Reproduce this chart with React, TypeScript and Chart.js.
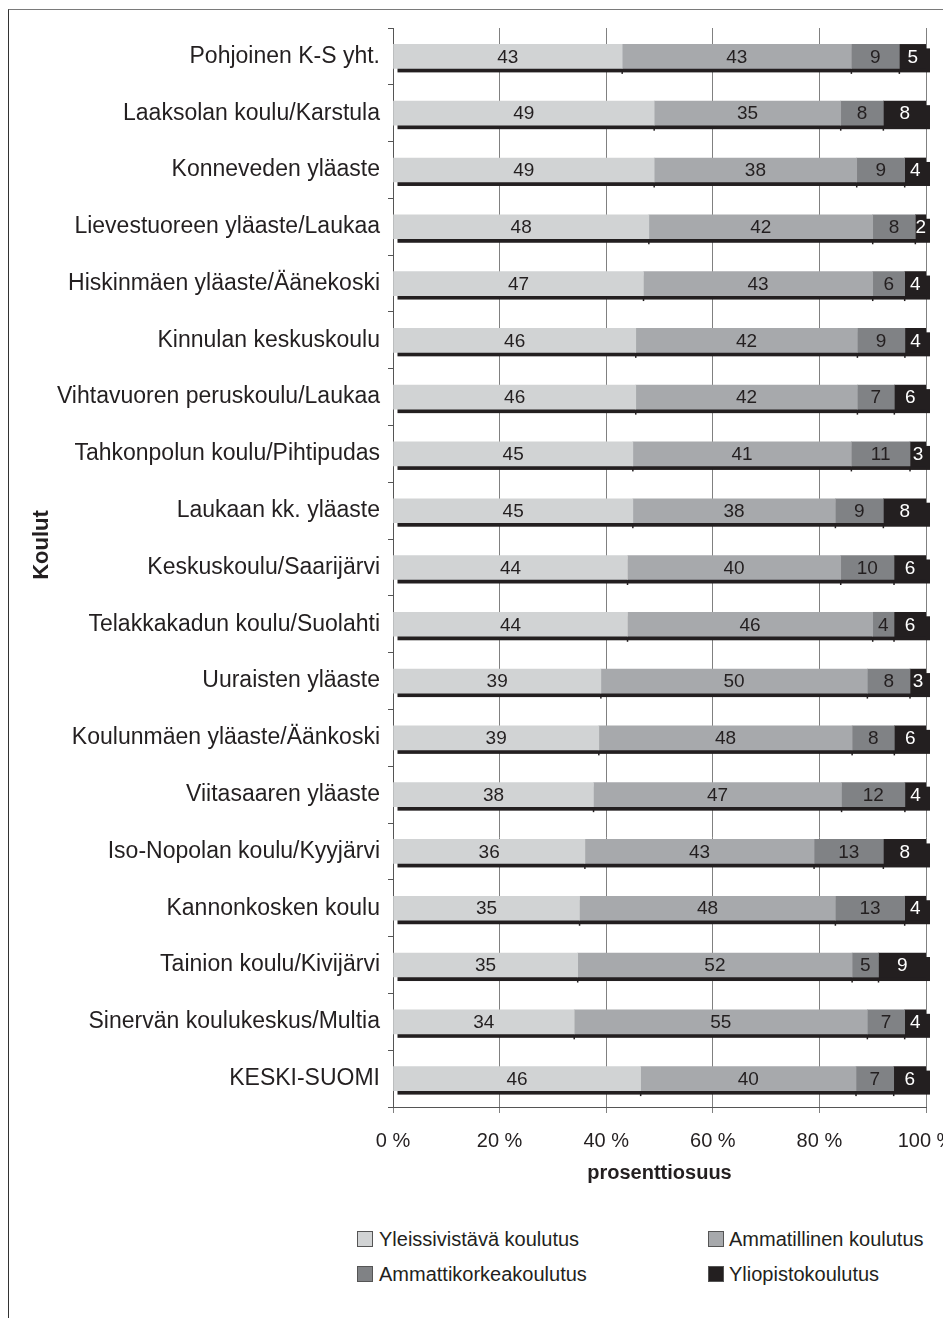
import React, { useEffect, useRef } from "react";
import { Chart, registerables } from "chart.js";

Chart.register(...registerables);

const categories = [
  "Pohjoinen K-S yht.",
  "Laaksolan koulu/Karstula",
  "Konneveden yläaste",
  "Lievestuoreen yläaste/Laukaa",
  "Hiskinmäen yläaste/Äänekoski",
  "Kinnulan keskuskoulu",
  "Vihtavuoren peruskoulu/Laukaa",
  "Tahkonpolun koulu/Pihtipudas",
  "Laukaan kk. yläaste",
  "Keskuskoulu/Saarijärvi",
  "Telakkakadun koulu/Suolahti",
  "Uuraisten yläaste",
  "Koulunmäen yläaste/Äänkoski",
  "Viitasaaren yläaste",
  "Iso-Nopolan koulu/Kyyjärvi",
  "Kannonkosken koulu",
  "Tainion koulu/Kivijärvi",
  "Sinervän koulukeskus/Multia",
  "KESKI-SUOMI",
];

const yleissivistava = [43, 49, 49, 48, 47, 46, 46, 45, 45, 44, 44, 39, 39, 38, 36, 35, 35, 34, 46];
const ammatillinen = [43, 35, 38, 42, 43, 42, 42, 41, 38, 40, 46, 50, 48, 47, 43, 48, 52, 55, 40];
const ammattikorkea = [9, 8, 9, 8, 6, 9, 7, 11, 9, 10, 4, 8, 8, 12, 13, 13, 5, 7, 7];
const yliopisto = [5, 8, 4, 2, 4, 4, 6, 3, 8, 6, 6, 3, 6, 4, 8, 4, 9, 4, 6];

const seriesNames = [
  "Yleissivistävä koulutus",
  "Ammatillinen koulutus",
  "Ammattikorkeakoulutus",
  "Yliopistokoulutus",
];
const rawSeries = [yleissivistava, ammatillinen, ammattikorkea, yliopisto];
const seriesColors = ["#d1d3d4", "#a7a9ac", "#808285", "#231f20"];
const labelColors = ["#231f20", "#231f20", "#231f20", "#ffffff"];

const xTickValues = [0, 20, 40, 60, 80, 100];

const FONT = '"Liberation Sans", Arial, Helvetica, sans-serif';
const TEXT = "#231f20";

const shadowPlugin = {
  id: "barShadow",
  beforeDatasetsDraw(chart: any) {
    const ctx = chart.ctx;
    const metas = chart.getSortedVisibleDatasetMetas();
    const n = chart.data.labels.length;
    ctx.save();
    ctx.fillStyle = "#231f20";
    for (let i = 0; i < n; i++) {
      let left = Infinity;
      let right = -Infinity;
      let top = 0;
      let h = 0;
      const ends: number[] = [];
      metas.forEach((m: any) => {
        const el = m.data[i];
        if (!el) return;
        const p = el.getProps(["x", "y", "base", "height"], true);
        left = Math.min(left, p.base, p.x);
        right = Math.max(right, p.base, p.x);
        top = p.y - p.height / 2;
        h = p.height;
        ends.push(p.x);
      });
      ctx.fillRect(left + 4, top + 4, right - left, h);
      ends.forEach((bx) => {
        if (bx < right - 0.5) ctx.fillRect(bx - 0.75, top + h, 1.5, 5.5);
      });
    }
    ctx.restore();
  },
};

const labelPlugin = {
  id: "segmentLabels",
  afterDatasetsDraw(chart: any) {
    const ctx = chart.ctx;
    ctx.save();
    ctx.font = `19px ${FONT}`;
    ctx.textAlign = "center";
    ctx.textBaseline = "middle";
    chart.getSortedVisibleDatasetMetas().forEach((m: any) => {
      const ds = m.index;
      m.data.forEach((el: any, i: number) => {
        const p = el.getProps(["x", "y", "base"], true);
        ctx.fillStyle = labelColors[ds];
        ctx.fillText(String(rawSeries[ds][i]), (p.x + p.base) / 2, p.y + 1);
      });
    });
    ctx.restore();
  },
};

const yTitlePlugin = {
  id: "yTitle",
  afterDraw(chart: any) {
    const ctx = chart.ctx;
    ctx.save();
    ctx.translate(33, 535);
    ctx.rotate(-Math.PI / 2);
    ctx.font = `bold 22px ${FONT}`;
    ctx.fillStyle = TEXT;
    ctx.textAlign = "center";
    ctx.textBaseline = "middle";
    ctx.fillText("Koulut", 0, 0);
    ctx.restore();
  },
};

export default function App() {
  const ref = useRef<HTMLCanvasElement>(null);

  useEffect(() => {
    document.documentElement.style.overflow = "hidden";
    document.body.style.overflow = "hidden";
    const sums = categories.map((_, i) => rawSeries.reduce((s, a) => s + a[i], 0));
    const chart = new Chart(ref.current as HTMLCanvasElement, {
      type: "bar",
      data: {
        labels: categories,
        datasets: rawSeries.map((arr, k) => ({
          label: seriesNames[k],
          data: arr.map((v, i) => (v / sums[i]) * 100),
          backgroundColor: seriesColors[k],
          borderWidth: 0,
          barThickness: 24,
        })),
      },
      options: {
        indexAxis: "y",
        responsive: false,
        animation: false,
        layout: { padding: { top: 18, right: 40, bottom: 0, left: 0 } },
        plugins: {
          legend: { display: false },
          tooltip: { enabled: false },
        },
        scales: {
          x: {
            type: "linear",
            stacked: true,
            min: 0,
            max: 100,
            afterBuildTicks(scale: any) {
              scale.ticks = xTickValues.map((v) => ({ value: v }));
            },
            ticks: {
              callback: (v: any) => `${v} %`,
              font: { family: FONT, size: 20 },
              color: TEXT,
              padding: 16,
              maxRotation: 0,
            },
            grid: { color: "#808080", lineWidth: 1, tickLength: 6, drawOnChartArea: true },
            border: { color: "#555555", width: 1 },
            title: {
              display: true,
              text: "prosenttiosuus",
              font: { family: FONT, size: 20, weight: "bold" },
              color: TEXT,
              padding: { top: 0, bottom: 9 },
            },
            afterFit(scale: any) {
              scale.height = 87;
              scale.paddingLeft = 0;
              scale.paddingRight = 0;
            },
          },
          y: {
            type: "category",
            stacked: true,
            ticks: {
              font: { family: FONT, size: 23 },
              color: TEXT,
              padding: 8,
            },
            grid: { drawOnChartArea: false, tickLength: 5, color: "#555555", offset: true },
            border: { color: "#555555", width: 1 },
            afterFit(scale: any) {
              scale.width = 384;
              scale.paddingTop = 0;
              scale.paddingBottom = 0;
            },
          },
        },
      } as any,
      plugins: [shadowPlugin, labelPlugin, yTitlePlugin],
    });
    return () => chart.destroy();
  }, []);

  const legendPos = [
    { box: 348, text: 370, cy: 1229 },
    { box: 699, text: 720, cy: 1229 },
    { box: 348, text: 370, cy: 1264 },
    { box: 699, text: 720, cy: 1264 },
  ];

  return (
    <div
      style={{
        position: "relative",
        marginTop: 1,
        width: 1000,
        height: 1309,
        boxSizing: "border-box",
        borderTop: "1px solid #7a7a7a",
        borderLeft: "1px solid #333333",
        overflow: "hidden",
        background: "#ffffff",
      }}
    >
      <canvas
        ref={ref}
        width={957}
        height={1184}
        style={{ position: "absolute", left: 0, top: 0, width: 957, height: 1184 }}
      />
      {seriesNames.map((name, k) => (
        <React.Fragment key={name}>
          <div
            style={{
              position: "absolute",
              left: legendPos[k].box,
              top: legendPos[k].cy - 8,
              width: 16,
              height: 16,
              boxSizing: "border-box",
              border: "1px solid #555555",
              background: seriesColors[k],
            }}
          />
          <div
            style={{
              position: "absolute",
              left: legendPos[k].text,
              top: legendPos[k].cy - 12,
              height: 24,
              lineHeight: "24px",
              fontFamily: FONT,
              fontSize: 20,
              color: TEXT,
              whiteSpace: "nowrap",
            }}
          >
            {name}
          </div>
        </React.Fragment>
      ))}
    </div>
  );
}
